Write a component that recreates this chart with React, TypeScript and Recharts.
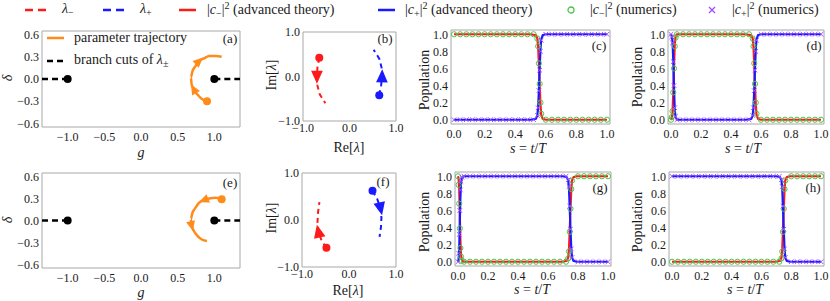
import React from 'react'
import { ComposedChart, Line, Scatter, XAxis, YAxis, ReferenceArea } from 'recharts'

const FONT = '"Liberation Serif", "Times New Roman", serif'
const INK = '#1a1a1a'
const FRAME = '#a8a8a8'
const RED = '#ff1a1a'
const BLUE = '#1a1aff'
const ORANGE = '#ff8c1a'
const GREEN = '#4cc44c'
const PURPLE = '#a24cff'

// (a) trajektorie parametrů (g, δ)
const TRAJ_A_G = [0.90, 0.83, 0.77, 0.72, 0.69, 0.68, 0.70, 0.74, 0.79, 0.86, 0.93, 1.02, 1.10]
const TRAJ_A_D = [-0.30, -0.27, -0.21, -0.14, -0.07, 0.02, 0.10, 0.17, 0.24, 0.28, 0.31, 0.31, 0.30]
// (e) opačný směr
const TRAJ_E_G = [1.10, 1.02, 0.93, 0.86, 0.79, 0.74, 0.70, 0.68, 0.69, 0.72, 0.77, 0.83, 0.90]
const TRAJ_E_D = [0.29, 0.31, 0.30, 0.28, 0.24, 0.17, 0.10, 0.02, -0.07, -0.14, -0.21, -0.26, -0.28]

// větvicí řezy a exceptional pointy
const CUT_L_G = [-1.35, -1.0]
const CUT_R_G = [1.0, 1.35]
const CUT_D = [0, 0]
const EP_G = [-1.0, 1.0]
const EP_D = [0, 0]

// (b) vlastní čísla λ∓ v komplexní rovině
const LM_B_RE = [-0.65, -0.69, -0.70, -0.69, -0.64, -0.52]
const LM_B_IM = [0.42, 0.20, 0.0, -0.20, -0.40, -0.60]
const LP_B_RE = [0.64, 0.68, 0.70, 0.69, 0.64, 0.52]
const LP_B_IM = [-0.42, -0.20, 0.0, 0.20, 0.40, 0.60]
// (f)
const LM_F_RE = [-0.48, -0.58, -0.65, -0.67, -0.66, -0.63]
const LM_F_IM = [-0.59, -0.45, -0.25, -0.05, 0.15, 0.38]
const LP_F_RE = [0.50, 0.60, 0.67, 0.69, 0.68, 0.65]
const LP_F_IM = [0.62, 0.45, 0.25, 0.05, -0.15, -0.36]

// (c) populace – teorie
const C_TH_S = [0, 0.50, 0.535, 0.545, 0.55, 0.555, 0.56, 0.565, 0.57, 0.58, 0.60, 1.0]
const C_TH_M = [1, 1, 0.99, 0.95, 0.85, 0.65, 0.40, 0.18, 0.06, 0.01, 0, 0]
const C_TH_P = [0, 0, 0.01, 0.05, 0.15, 0.35, 0.60, 0.82, 0.94, 0.99, 1, 1]
// (c) numerika
const C_NUM_S = [0, 0.04, 0.08, 0.12, 0.16, 0.2, 0.24, 0.28, 0.32, 0.36, 0.4, 0.44, 0.48, 0.52, 0.545, 0.55, 0.555, 0.56, 0.565, 0.57, 0.6, 0.64, 0.68, 0.72, 0.76, 0.8, 0.84, 0.88, 0.92, 0.96, 1]
const C_NUM_M = [1, 1, 1, 1, 1, 1, 1, 1, 1, 1, 1, 1, 1, 1, 0.95, 0.86, 0.66, 0.42, 0.2, 0.07, 0, 0, 0, 0, 0, 0, 0, 0, 0, 0, 0]
const C_NUM_P = [0, 0, 0, 0, 0, 0, 0, 0, 0, 0, 0, 0, 0, 0, 0.05, 0.14, 0.34, 0.58, 0.8, 0.93, 1, 1, 1, 1, 1, 1, 1, 1, 1, 1, 1]

// (d)
const D_TH_S = [0, 0.005, 0.01, 0.015, 0.02, 0.025, 0.03, 0.04, 0.50, 0.535, 0.545, 0.55, 0.555, 0.56, 0.565, 0.57, 0.58, 0.60, 1.0]
const D_TH_M = [0, 0.02, 0.08, 0.30, 0.62, 0.88, 0.97, 1, 1, 0.99, 0.95, 0.85, 0.65, 0.40, 0.18, 0.06, 0.01, 0, 0]
const D_TH_P = [1, 0.98, 0.92, 0.70, 0.38, 0.12, 0.03, 0, 0, 0.01, 0.05, 0.15, 0.35, 0.60, 0.82, 0.94, 0.99, 1, 1]
const D_NUM_S = [0, 0.005, 0.01, 0.015, 0.02, 0.025, 0.03, 0.04, 0.08, 0.12, 0.16, 0.2, 0.24, 0.28, 0.32, 0.36, 0.4, 0.44, 0.48, 0.52, 0.545, 0.55, 0.555, 0.56, 0.565, 0.57, 0.6, 0.64, 0.68, 0.72, 0.76, 0.8, 0.84, 0.88, 0.92, 0.96, 1]
const D_NUM_M = [0, 0.03, 0.1, 0.32, 0.6, 0.86, 0.96, 1, 1, 1, 1, 1, 1, 1, 1, 1, 1, 1, 1, 1, 0.95, 0.86, 0.66, 0.42, 0.2, 0.07, 0, 0, 0, 0, 0, 0, 0, 0, 0, 0, 0]
const D_NUM_P = [1, 0.97, 0.9, 0.68, 0.4, 0.14, 0.04, 0, 0, 0, 0, 0, 0, 0, 0, 0, 0, 0, 0, 0, 0.05, 0.14, 0.34, 0.58, 0.8, 0.93, 1, 1, 1, 1, 1, 1, 1, 1, 1, 1, 1]

// (g)
const G_TH_S = [0, 0.004, 0.008, 0.012, 0.016, 0.02, 0.026, 0.035, 0.70, 0.725, 0.735, 0.74, 0.745, 0.75, 0.755, 0.76, 0.77, 0.79, 1.0]
const G_TH_M = [1, 0.97, 0.85, 0.55, 0.25, 0.08, 0.02, 0, 0, 0.01, 0.05, 0.15, 0.38, 0.62, 0.84, 0.95, 0.99, 1, 1]
const G_TH_P = [0, 0.03, 0.15, 0.45, 0.75, 0.92, 0.98, 1, 1, 0.99, 0.95, 0.85, 0.62, 0.38, 0.16, 0.05, 0.01, 0, 0]
const G_NUM_S = [0, 0.004, 0.008, 0.012, 0.016, 0.02, 0.026, 0.04, 0.08, 0.12, 0.16, 0.2, 0.24, 0.28, 0.32, 0.36, 0.4, 0.44, 0.48, 0.52, 0.56, 0.6, 0.64, 0.68, 0.72, 0.735, 0.74, 0.745, 0.75, 0.755, 0.76, 0.8, 0.84, 0.88, 0.92, 0.96, 1]
const G_NUM_M = [1, 0.9, 0.68, 0.39, 0.16, 0.06, 0.01, 0, 0, 0, 0, 0, 0, 0, 0, 0, 0, 0, 0, 0, 0, 0, 0, 0, 0, 0.04, 0.12, 0.35, 0.62, 0.85, 0.95, 1, 1, 1, 1, 1, 1]
const G_NUM_P = [0, 0.1, 0.32, 0.6, 0.84, 0.94, 0.99, 1, 1, 1, 1, 1, 1, 1, 1, 1, 1, 1, 1, 1, 1, 1, 1, 1, 1, 0.96, 0.88, 0.65, 0.38, 0.15, 0.05, 0, 0, 0, 0, 0, 0]

// (h)
const H_TH_S = [0, 0.70, 0.725, 0.735, 0.74, 0.745, 0.75, 0.755, 0.76, 0.77, 0.79, 1.0]
const H_TH_M = [0, 0, 0.01, 0.05, 0.15, 0.38, 0.62, 0.84, 0.95, 0.99, 1, 1]
const H_TH_P = [1, 1, 0.99, 0.95, 0.85, 0.62, 0.38, 0.16, 0.05, 0.01, 0, 0]
const H_NUM_S = [0, 0.04, 0.08, 0.12, 0.16, 0.2, 0.24, 0.28, 0.32, 0.36, 0.4, 0.44, 0.48, 0.52, 0.56, 0.6, 0.64, 0.68, 0.72, 0.735, 0.74, 0.745, 0.75, 0.755, 0.76, 0.8, 0.84, 0.88, 0.92, 0.96, 1]
const H_NUM_M = [0, 0, 0, 0, 0, 0, 0, 0, 0, 0, 0, 0, 0, 0, 0, 0, 0, 0, 0, 0.04, 0.12, 0.35, 0.62, 0.85, 0.95, 1, 1, 1, 1, 1, 1]
const H_NUM_P = [1, 1, 1, 1, 1, 1, 1, 1, 1, 1, 1, 1, 1, 1, 1, 1, 1, 1, 1, 0.96, 0.88, 0.65, 0.38, 0.15, 0.05, 0, 0, 0, 0, 0, 0]

const TICKS_G = [-1, -0.5, 0, 0.5, 1]
const TICKS_DELTA = [-0.6, -0.3, 0, 0.3, 0.6]
const TICKS_LAM = [-1, 0, 1]
const TICKS_POP = [0, 0.2, 0.4, 0.6, 0.8, 1]

const zip = (xs: number[], ys: number[]) => xs.map((x, i) => ({ x, y: ys[i] }))
const fmt = (v: number) => (v < 0 ? '\u2212' : '') + Math.abs(v).toFixed(1)
const TICK = { fontSize: 12, fill: INK, fontFamily: FONT }

// šipky a počáteční tečka na trajektoriích – směr z okolních bodů
function pathDots(color: string, arrowAt: number[], size: number) {
  return (p: any) => {
    const { cx, cy, index, points } = p
    if (index === 0) return <circle key={`d${index}`} cx={cx} cy={cy} r={4} fill={color} />
    if (arrowAt.includes(index) && points && points[index + 1]) {
      const a = points[index - 1], b = points[index + 1]
      const ang = (Math.atan2(b.y - a.y, b.x - a.x) * 180) / Math.PI
      const w = size * 0.45
      return (
        <polygon
          key={`d${index}`}
          points={`${size * 0.55},0 ${-size * 0.45},${w} ${-size * 0.45},${-w}`}
          transform={`translate(${cx},${cy}) rotate(${ang})`}
          fill={color}
        />
      )
    }
    return <g key={`d${index}`} />
  }
}

const GreenO = (p: any) => <circle cx={p.cx} cy={p.cy} r={2.6} fill="none" stroke={GREEN} strokeWidth={1} />
const PurpleX = (p: any) => (
  <g stroke={PURPLE} strokeWidth={1}>
    <line x1={p.cx - 2.3} y1={p.cy - 2.3} x2={p.cx + 2.3} y2={p.cy + 2.3} />
    <line x1={p.cx - 2.3} y1={p.cy + 2.3} x2={p.cx + 2.3} y2={p.cy - 2.3} />
  </g>
)
const BlackDot = (p: any) => <circle cx={p.cx} cy={p.cy} r={4} fill="#000" />

function Plot({ box, xDom, yDom, xTicks, yTicks, xMargin = 5, yMargin = 3, children }: any) {
  const [L, T, R, B] = box
  const YW = 40, XH = 24, PT = 9, PR = 14
  return (
    <div style={{ position: 'absolute', left: L - YW, top: T - PT, fontFamily: FONT }}>
      <ComposedChart width={R - L + YW + PR} height={B - T + PT + XH} margin={{ top: PT, right: PR, bottom: 0, left: 0 }}
        style={{ fontFamily: FONT }}>
        <XAxis type="number" dataKey="x" domain={xDom} ticks={xTicks} allowDataOverflow interval={0}
          tickFormatter={fmt} tickLine={false} axisLine={false} tickSize={0} tickMargin={xMargin} height={XH} tick={TICK} />
        <YAxis type="number" dataKey="y" domain={yDom} ticks={yTicks} allowDataOverflow interval={0}
          tickFormatter={fmt} tickLine={false} axisLine={false} tickSize={0} tickMargin={yMargin} width={YW} tick={TICK} />
        <ReferenceArea x1={xDom[0]} x2={xDom[1]} y1={yDom[0]} y2={yDom[1]} fill="none" stroke={FRAME} strokeWidth={1} />
        {children}
      </ComposedChart>
    </div>
  )
}

function GPlot({ box, traj, arrows }: any) {
  return (
    <Plot box={box} xDom={[-1.35, 1.35]} yDom={[-0.65, 0.65]} xTicks={TICKS_G} yTicks={TICKS_DELTA}>
      <Line data={zip(CUT_L_G, CUT_D)} dataKey="y" stroke="#000" strokeWidth={2.5} strokeDasharray="6 4" dot={false} isAnimationActive={false} />
      <Line data={zip(CUT_R_G, CUT_D)} dataKey="y" stroke="#000" strokeWidth={2.5} strokeDasharray="6 4" dot={false} isAnimationActive={false} />
      <Scatter data={zip(EP_G, EP_D)} shape={BlackDot} isAnimationActive={false} />
      <Line data={traj} dataKey="y" type="monotone" stroke={ORANGE} strokeWidth={2.5} dot={pathDots(ORANGE, arrows, 10)} isAnimationActive={false} />
    </Plot>
  )
}

function LPlot({ box, minus, plus }: any) {
  return (
    <Plot box={box} xDom={[-1, 1]} yDom={[-1, 1]} xTicks={TICKS_LAM} yTicks={TICKS_LAM} xMargin={2}>
      <Line data={minus} dataKey="y" stroke={RED} strokeWidth={2} strokeDasharray="5 4" dot={pathDots(RED, [2], 13)} isAnimationActive={false} />
      <Line data={plus} dataKey="y" stroke={BLUE} strokeWidth={2} strokeDasharray="5 4" dot={pathDots(BLUE, [2], 13)} isAnimationActive={false} />
    </Plot>
  )
}

function PPlot({ box, th, num }: any) {
  return (
    <Plot box={box} xDom={[-0.02, 1.02]} yDom={[-0.05, 1.05]} xTicks={TICKS_POP} yTicks={TICKS_POP}>
      <Scatter data={num[0]} shape={GreenO} isAnimationActive={false} />
      <Scatter data={num[1]} shape={PurpleX} isAnimationActive={false} />
      <Line data={th[0]} dataKey="y" stroke={RED} strokeWidth={2.2} dot={false} isAnimationActive={false} />
      <Line data={th[1]} dataKey="y" stroke={BLUE} strokeWidth={2.2} dot={false} isAnimationActive={false} />
    </Plot>
  )
}

function Txt({ x, y, size = 13, rotate = 0, left = false, children }: any) {
  return (
    <div style={{
      position: 'absolute', left: x, top: y, whiteSpace: 'nowrap', lineHeight: 1, color: INK,
      fontFamily: FONT, fontSize: size,
      transform: `translate(${left ? '0' : '-50%'},-50%) rotate(${rotate}deg)`,
    }}>{children}</div>
  )
}

const Sub = ({ children }: any) => <span style={{ fontSize: '0.72em', verticalAlign: '-0.3em' }}>{children}</span>
const Sup = ({ children }: any) => <span style={{ fontSize: '0.72em', verticalAlign: '0.5em' }}>{children}</span>
const C = ({ s }: any) => <span>|<i>c</i><Sub>{s}</Sub>|<Sup>2</Sup></span>
const S_LABEL = <span><i>s</i> = <i>t</i>/<i>T</i></span>

function Sample({ x, y, w, color, dash, width = 2.5 }: any) {
  return (
    <svg style={{ position: 'absolute', left: x, top: y - 3 }} width={w} height={6}>
      <line x1={0} y1={3} x2={w} y2={3} stroke={color} strokeWidth={width} strokeDasharray={dash} />
    </svg>
  )
}

export default function App() {
  return (
    <div style={{ position: 'absolute', left: 0, top: 0, width: 830, height: 301, background: '#fff', overflow: 'hidden', fontFamily: FONT }}>
      {/* horní legenda */}
      <Sample x={25} y={10} w={21} color={RED} dash="8 5" />
      <Txt x={62} y={10} size={14} left><i>λ</i><Sub>−</Sub></Txt>
      <Sample x={103} y={10} w={21} color={BLUE} dash="8 5" />
      <Txt x={140} y={10} size={14} left><i>λ</i><Sub>+</Sub></Txt>
      <Sample x={179} y={10} w={17} color={RED} />
      <Txt x={207} y={10} size={14} left><C s="−" /> (advanced theory)</Txt>
      <Sample x={378} y={10} w={17} color={BLUE} />
      <Txt x={405} y={10} size={14} left><C s="+" /> (advanced theory)</Txt>
      <svg style={{ position: 'absolute', left: 566, top: 5 }} width={10} height={10}>
        <circle cx={5} cy={5} r={3} fill="none" stroke={GREEN} strokeWidth={1.3} />
      </svg>
      <Txt x={590} y={10} size={14} left><C s="−" /> (numerics)</Txt>
      <svg style={{ position: 'absolute', left: 707, top: 5 }} width={10} height={10}>
        <g stroke={PURPLE} strokeWidth={1.3}>
          <line x1={2} y1={2} x2={8} y2={8} />
          <line x1={2} y1={8} x2={8} y2={2} />
        </g>
      </svg>
      <Txt x={732} y={10} size={14} left><C s="+" /> (numerics)</Txt>

      {/* horní řada */}
      <GPlot box={[42, 31, 240, 127]} traj={zip(TRAJ_A_G, TRAJ_A_D)} arrows={[3, 8]} />
      <LPlot box={[303, 32, 396, 121]} minus={zip(LM_B_RE, LM_B_IM)} plus={zip(LP_B_RE, LP_B_IM)} />
      <PPlot box={[451, 30, 610, 124]} th={[zip(C_TH_S, C_TH_M), zip(C_TH_S, C_TH_P)]} num={[zip(C_NUM_S, C_NUM_M), zip(C_NUM_S, C_NUM_P)]} />
      <PPlot box={[668, 30, 824, 124]} th={[zip(D_TH_S, D_TH_M), zip(D_TH_S, D_TH_P)]} num={[zip(D_NUM_S, D_NUM_M), zip(D_NUM_S, D_NUM_P)]} />

      {/* dolní řada */}
      <GPlot box={[42, 173, 240, 268]} traj={zip(TRAJ_E_G, TRAJ_E_D)} arrows={[3, 8]} />
      <LPlot box={[302, 173, 396, 267]} minus={zip(LM_F_RE, LM_F_IM)} plus={zip(LP_F_RE, LP_F_IM)} />
      <PPlot box={[455, 172, 611, 266]} th={[zip(G_TH_S, G_TH_M), zip(G_TH_S, G_TH_P)]} num={[zip(G_NUM_S, G_NUM_M), zip(G_NUM_S, G_NUM_P)]} />
      <PPlot box={[669, 172, 824, 266]} th={[zip(H_TH_S, H_TH_M), zip(H_TH_S, H_TH_P)]} num={[zip(H_NUM_S, H_NUM_M), zip(H_NUM_S, H_NUM_P)]} />

      {/* vložená legenda (a) */}
      <Sample x={47} y={38} w={17} color={ORANGE} />
      <Txt x={74} y={38} size={14} left>parameter trajectory</Txt>
      <Sample x={47} y={61} w={17} color="#000" dash="6 4" />
      <Txt x={74} y={61} size={14} left>branch cuts of <i>λ</i><Sub>±</Sub></Txt>

      {/* popisky panelů */}
      <Txt x={230} y={38}>(a)</Txt>
      <Txt x={385} y={38}>(b)</Txt>
      <Txt x={599} y={45}>(c)</Txt>
      <Txt x={814} y={45}>(d)</Txt>
      <Txt x={230} y={182}>(e)</Txt>
      <Txt x={383} y={181}>(f)</Txt>
      <Txt x={600} y={187}>(g)</Txt>
      <Txt x={813} y={187}>(h)</Txt>

      {/* názvy os */}
      <Txt x={141} y={153} size={14}><i>g</i></Txt>
      <Txt x={8} y={78} size={14} rotate={-90}><i>δ</i></Txt>
      <Txt x={141} y={293} size={14}><i>g</i></Txt>
      <Txt x={8} y={220} size={14} rotate={-90}><i>δ</i></Txt>
      <Txt x={349} y={148} size={14}>Re[<i>λ</i>]</Txt>
      <Txt x={272} y={75} size={14} rotate={-90}>Im[<i>λ</i>]</Txt>
      <Txt x={348} y={291} size={14}>Re[<i>λ</i>]</Txt>
      <Txt x={272} y={218} size={14} rotate={-90}>Im[<i>λ</i>]</Txt>
      <Txt x={528} y={149} size={14}>{S_LABEL}</Txt>
      <Txt x={425} y={80} size={14} rotate={-90}>Population</Txt>
      <Txt x={743} y={149} size={14}>{S_LABEL}</Txt>
      <Txt x={638} y={77} size={14} rotate={-90}>Population</Txt>
      <Txt x={532} y={290} size={14}>{S_LABEL}</Txt>
      <Txt x={425} y={222} size={14} rotate={-90}>Population</Txt>
      <Txt x={745} y={290} size={14}>{S_LABEL}</Txt>
      <Txt x={638} y={222} size={14} rotate={-90}>Population</Txt>
    </div>
  )
}
